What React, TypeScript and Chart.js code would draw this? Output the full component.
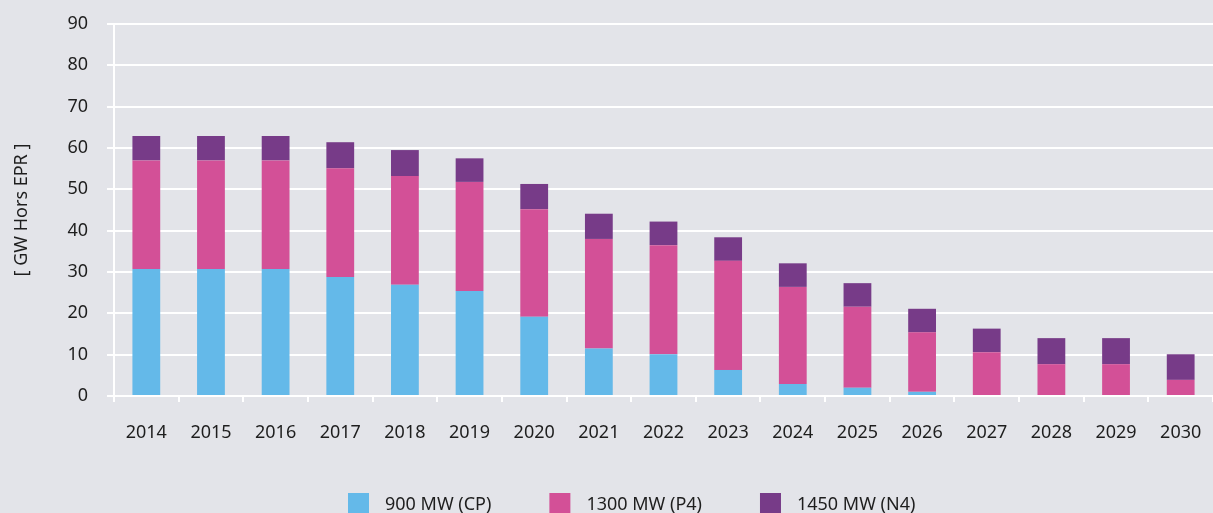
import React, { useEffect, useRef } from "react";
import { Chart, registerables } from "chart.js";

Chart.register(...registerables);

const years = ["2014","2015","2016","2017","2018","2019","2020","2021","2022","2023","2024","2025","2026","2027","2028","2029","2030"];
const cp900 = [30.7,30.7,30.7,28.8,26.9,25.4,19.2,11.5,10.1,6.3,2.9,2.0,1.0,0,0,0,0];
const p4_1300 = [26.3,26.3,26.3,26.3,26.3,26.4,26.0,26.5,26.4,26.4,23.5,19.6,14.4,10.6,7.7,7.7,3.9];
const n4_1450 = [5.9,5.9,5.9,6.3,6.3,5.7,6.1,6.1,5.7,5.7,5.7,5.7,5.7,5.7,6.3,6.3,6.2];
const seriesLabels = ["900 MW (CP)", "1300 MW (P4)", "1450 MW (N4)"];
const seriesColors = ["#64b9e9", "#d35097", "#773b88"];
const yTitle = "[ GW Hors EPR ]";

const FONT = "'Noto Sans', sans-serif";
const TEXT = "#1e1e1e";

const legendPlugin = {
  id: "customLegend",
  afterDraw(chart: any) {
    const ctx = chart.ctx;
    ctx.save();
    ctx.font = `18px ${FONT}`;
    ctx.textBaseline = "middle";
    ctx.textAlign = "left";
    let x = 348;
    const boxTop = 493;
    const box = 21;
    chart.data.datasets.forEach((ds: any) => {
      ctx.fillStyle = ds.backgroundColor;
      ctx.fillRect(x, boxTop, box, box);
      ctx.fillStyle = TEXT;
      const tx = x + box + 16;
      ctx.fillText(ds.label, tx, boxTop + box / 2 + 1);
      x = tx + ctx.measureText(ds.label).width + 58;
    });
    ctx.restore();
  },
};

export default function App() {
  const ref = useRef<HTMLCanvasElement>(null);
  useEffect(() => {
    document.body.style.margin = "0";
    document.body.style.background = "#e3e4e9";
    const chart = new Chart(ref.current!, {
      type: "bar",
      data: {
        labels: years,
        datasets: [cp900, p4_1300, n4_1450].map((d, i) => ({
          label: seriesLabels[i],
          data: d,
          backgroundColor: seriesColors[i],
          borderWidth: 0,
          barPercentage: 0.43,
          categoryPercentage: 1,
        })),
      },
      options: {
        animation: false,
        responsive: false,
        layout: { padding: { top: 24, bottom: 69, left: 0, right: -5 } },
        plugins: { legend: { display: false }, tooltip: { enabled: false } },
        scales: {
          x: {
            stacked: true,
            grid: { display: true, drawOnChartArea: false, drawTicks: true, tickLength: 6, color: "#ffffff", lineWidth: 2, offset: true },
            border: { display: true, color: "#ffffff", width: 2 },
            ticks: { color: TEXT, font: { family: FONT, size: 18 }, padding: 20, maxRotation: 0, autoSkip: false },
            afterFit: (s: any) => { s.height = 48; s.paddingLeft = 0; s.paddingRight = 0; },
          },
          y: {
            stacked: true,
            min: 0,
            max: 90,
            ticks: { stepSize: 10, color: TEXT, font: { family: FONT, size: 18 }, padding: 19 },
            grid: { color: "#ffffff", lineWidth: 2, tickLength: 7 },
            border: { display: true, color: "#ffffff", width: 2 },
            title: { display: true, text: yTitle, color: TEXT, font: { family: FONT, size: 18 }, padding: { top: 11, bottom: 0 } },
            afterFit: (s: any) => { s.width = 114; s.paddingTop = 0; s.paddingBottom = 0; },
          },
        },
      },
      plugins: [legendPlugin],
    });
    return () => chart.destroy();
  }, []);
  return (
    <div style={{ width: 1213, height: 513, background: "#e3e4e9" }}>
      <canvas ref={ref} width={1213} height={513} style={{ display: "block" }} />
    </div>
  );
}
